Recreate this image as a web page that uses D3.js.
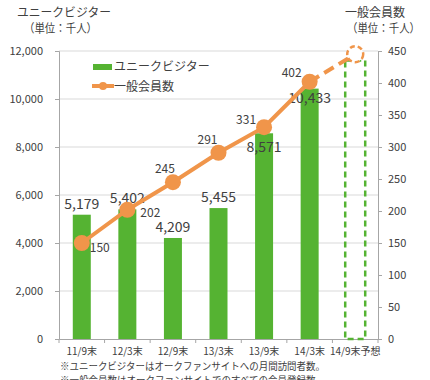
<!DOCTYPE html>
<html><head><meta charset="utf-8">
<script src="https://cdn.jsdelivr.net/npm/d3@7"></script>
<style>
body{margin:0;background:#fff;}
text{font-family:"Noto Sans CJK JP","Noto Sans",sans-serif;}
</style></head>
<body><svg id="c" width="430" height="380"></svg>
<script>
const categories = ["11/9末","12/3末","12/9末","13/3末","13/9末","14/3末","14/9末予想"];
const visitors = [5179,5402,4209,5455,8571,10433,11600];
const members = [150,202,245,291,331,402,445];
const forecast = [false,false,false,false,false,false,true];
const leftTicks = [0,2000,4000,6000,8000,10000,12000];
const rightTicks = [0,50,100,150,200,250,300,350,400,450];

const svg = d3.select("#c");
const L = 59, R = 378, T = 51, B = 339;
const x = d3.scaleBand().domain(categories).range([L, R]);
const yL = d3.scaleLinear().domain([0,12000]).range([B,T]);
const yR = d3.scaleLinear().domain([0,450]).range([B,T]);
const green = "#55b332", orange = "#f0954a", txt = "#404040";

// grid
svg.append("g").selectAll("line").data(leftTicks.slice(1)).join("line")
  .attr("x1",L).attr("x2",R).attr("y1",d=>yL(d)).attr("y2",d=>yL(d))
  .attr("stroke","#d9d9d9").attr("stroke-width",1);

// axes
const gl = svg.append("g").attr("transform",`translate(${L},0)`)
  .call(d3.axisLeft(yL).tickValues(leftTicks).tickFormat(d3.format(",")).tickSize(4).tickPadding(12));
const gr = svg.append("g").attr("transform",`translate(${R},0)`)
  .call(d3.axisRight(yR).tickValues(rightTicks).tickSize(4).tickPadding(6));
const gx = svg.append("g").attr("transform",`translate(0,${B})`)
  .call(d3.axisBottom(x).tickSize(0).tickPadding(9));
gx.selectAll(".tick text").attr("font-size",10).attr("fill",txt);
// boundary ticks
svg.append("g").selectAll("line").data(d3.range(categories.length+1)).join("line")
  .attr("x1",i=>L+i*x.step()).attr("x2",i=>L+i*x.step()).attr("y1",B).attr("y2",B+4)
  .attr("stroke","#a6a6a6");
[gl,gr,gx].forEach(g=>{g.selectAll(".domain").attr("stroke","#a6a6a6");g.selectAll(".tick line").attr("stroke","#a6a6a6");});
gl.selectAll(".tick text").attr("font-size",11).attr("fill",txt);
gr.selectAll(".tick text").attr("font-size",11).attr("fill",txt);

// bars
const bw = 18;
svg.append("g").selectAll("rect").data(categories).join("rect")
  .attr("x",(d,i)=>x(d)+x.bandwidth()/2-bw/2 + (forecast[i]?-1:0))
  .attr("width",(d,i)=>forecast[i]?20:bw)
  .attr("y",(d,i)=>yL(visitors[i]))
  .attr("height",(d,i)=>B-yL(visitors[i]))
  .attr("fill",(d,i)=>forecast[i]?"none":green)
  .attr("stroke",(d,i)=>forecast[i]?green:"none")
  .attr("stroke-width",2.5)
  .attr("stroke-dasharray",(d,i)=>forecast[i]?"6,4":null);

// bar labels
const barDy = [-6,-6,-6,-6,19,14,0];
svg.append("g").selectAll("text").data(categories.filter((d,i)=>!forecast[i])).join("text")
  .attr("x",d=>x(d)+x.bandwidth()/2)
  .attr("y",(d,i)=>yL(visitors[i])+barDy[i])
  .attr("text-anchor","middle").attr("font-size",14).attr("fill",txt)
  .text((d,i)=>d3.format(",")(visitors[i]));

// line
const cx = i=>x(categories[i])+x.bandwidth()/2;
svg.append("path").datum(d3.range(6)).attr("d",d3.line().x(i=>cx(i)).y(i=>yR(members[i])))
  .attr("fill","none").attr("stroke",orange).attr("stroke-width",4);
svg.append("path").datum([5,6]).attr("d",d3.line().x(i=>cx(i)).y(i=>yR(members[i])))
  .attr("fill","none").attr("stroke",orange).attr("stroke-width",4).attr("stroke-dasharray","11,6");
svg.append("g").selectAll("circle").data(members).join("circle")
  .attr("cx",(d,i)=>cx(i)).attr("cy",d=>yR(d)).attr("r",8)
  .attr("fill",(d,i)=>forecast[i]?"#fff":orange)
  .attr("stroke",orange).attr("stroke-width",(d,i)=>forecast[i]?2.5:0)
  .attr("stroke-dasharray",(d,i)=>forecast[i]?"5,3":null);

// line labels
const lblDx = [18,23,-8,-11,-18,-18];
const lblDy = [9,7,-9,-9,-3,-5];
svg.append("g").selectAll("text").data(members.slice(0,6)).join("text")
  .attr("x",(d,i)=>cx(i)+lblDx[i]).attr("y",(d,i)=>yR(d)+lblDy[i])
  .attr("text-anchor","middle").attr("font-size",12).attr("fill",txt)
  .text(d=>d);

// legend
const lg = svg.append("g");
lg.append("rect").attr("x",93).attr("y",64).attr("width",19).attr("height",6).attr("fill",green);
lg.append("text").attr("x",114).attr("y",71).attr("font-size",12).attr("fill",txt).text("ユニークビジター");
lg.append("line").attr("x1",92).attr("x2",114).attr("y1",86).attr("y2",86).attr("stroke",orange).attr("stroke-width",4);
lg.append("circle").attr("cx",103).attr("cy",86).attr("r",4).attr("fill",orange);
lg.append("text").attr("x",114).attr("y",91).attr("font-size",12).attr("fill",txt).text("一般会員数");

// titles
svg.append("text").attr("x",17).attr("y",17).attr("font-size",12).attr("fill",txt)
  .attr("textLength",94).attr("lengthAdjust","spacingAndGlyphs").text("ユニークビジター");
svg.append("text").attr("x",24).attr("y",33).attr("font-size",12).attr("fill",txt)
  .attr("textLength",73).attr("lengthAdjust","spacingAndGlyphs").text("（単位：千人）");
svg.append("text").attr("x",345).attr("y",17).attr("font-size",12).attr("fill",txt).text("一般会員数");
svg.append("text").attr("x",347).attr("y",33).attr("font-size",12).attr("fill",txt)
  .attr("textLength",73).attr("lengthAdjust","spacingAndGlyphs").text("（単位：千人）");

// notes
svg.append("text").attr("x",60).attr("y",370).attr("font-size",10).attr("fill",txt)
  .attr("textLength",265).attr("lengthAdjust","spacingAndGlyphs").text("※ユニークビジターはオークファンサイトへの月間訪問者数。");
svg.append("text").attr("x",60).attr("y",384).attr("font-size",10).attr("fill",txt)
  .attr("textLength",265).attr("lengthAdjust","spacingAndGlyphs").text("※一般会員数はオークファンサイトでのすべての会員登録数。");
</script></body></html>
